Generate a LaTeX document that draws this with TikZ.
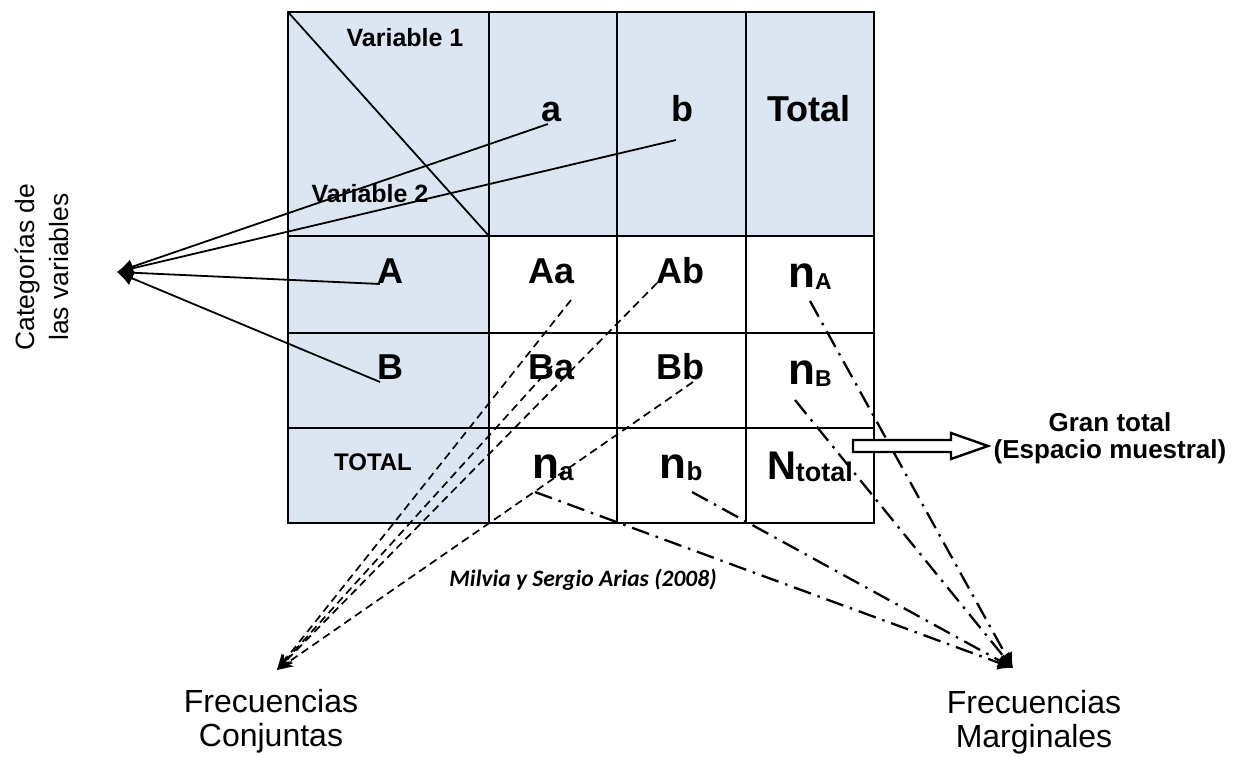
\documentclass[tikz,border=0pt]{standalone}
\usepackage{fontspec}
\setmainfont{Liberation Sans}
\newfontfamily\calfont{Carlito}
\usetikzlibrary{arrows.meta,calc}
\definecolor{hdrblue}{HTML}{DCE6F2}
\begin{document}
\begin{tikzpicture}[x=1pt,y=-1pt,
  grid/.style={line width=2.6pt,line cap=rect},
  big/.style={font=\fontsize{36}{36}\selectfont\bfseries,anchor=base,inner sep=0pt},
  mid/.style={font=\fontsize{25}{25}\selectfont\bfseries,anchor=base,inner sep=0pt},
  nlab/.style={font=\bfseries,anchor=base,inner sep=0pt},
  solidc/.style={line width=1.8pt,-{Latex[length=16pt,width=15pt]}},
  dashc/.style={line width=1.7pt,dash pattern=on 8pt off 5pt,-{Stealth[length=16pt,width=13pt]}},
  dotc/.style={line width=2.3pt,dash pattern=on 18pt off 7pt on 2.5pt off 7pt,-{Latex[length=15pt,width=15pt]}},
  note/.style={font=\fontsize{32}{34}\selectfont,align=center,anchor=north,inner sep=0pt}]
\useasboundingbox (0,0) rectangle (1248,757);
% table fills
\fill[hdrblue] (288,12) rectangle (874,236);
\fill[hdrblue] (288,236) rectangle (489,523);
% grid
\draw[grid] (288,12) rectangle (874,523);
\foreach \x in {489,617,746} \draw[grid] (\x,12) -- (\x,523);
\foreach \y in {236,333,428} \draw[grid] (288,\y) -- (874,\y);
\draw[line width=1.8pt] (288,12) -- (489,236);
% header labels
\node[mid] (v1) at (405,47) {Variable 1};
\node[mid] (v2) at (370,203) {Variable 2};
\node[big] (ha) at (552,122) {a};
\node[big] (hb) at (682,122) {b};
\node[big] (ht) at (809,122) {Total};
\node[big] (rA) at (390,283) {A};
\node[big] (rB) at (390,379) {B};
\node[font=\fontsize{24}{24}\selectfont\bfseries,anchor=base,inner sep=0pt] (rT) at (373,470) {TOTAL};
\node[big] (Aa) at (552,283) {Aa};
\node[big] (Ab) at (680,283) {Ab};
\node[big] (Ba) at (552,379) {Ba};
\node[big] (Bb) at (680,379) {Bb};
\node[nlab] (nA) at (810,287) {\fontsize{44}{44}\selectfont n\raisebox{-2pt}{\fontsize{23}{23}\selectfont A}};
\node[nlab] (nB) at (810,384) {\fontsize{44}{44}\selectfont n\raisebox{-2pt}{\fontsize{23}{23}\selectfont B}};
\node[nlab] (na) at (553,478) {\fontsize{44}{44}\selectfont n\raisebox{-2pt}{\fontsize{26}{26}\selectfont a}};
\node[nlab] (nb) at (681,478) {\fontsize{44}{44}\selectfont n\raisebox{-2pt}{\fontsize{26}{26}\selectfont b}};
\node[nlab] (Nt) at (810,479) {\fontsize{40}{40}\selectfont N\raisebox{-2pt}{\fontsize{27}{27}\selectfont total}};
% side texts
\node[font=\fontsize{26.5}{34}\selectfont,align=center,rotate=90,inner sep=0pt] (cat) at (42,267) {Categorías de\\las variables};
\node[note] (fc) at (271,689) {Frecuencias\\Conjuntas};
\node[note] (fm) at (1034,690) {Frecuencias\\Marginales};
\node[font=\fontsize{26}{27}\selectfont\bfseries,align=center,inner sep=0pt] (gt) at (1110,438) {Gran total\\(Espacio muestral)};
\node[font=\calfont\fontsize{23.5}{24}\selectfont\bfseries\itshape,inner sep=0pt] (src) at (583,580) {Milvia y Sergio Arias (2008)};
% connector endpoints
\coordinate (tipL) at (117,272);
\coordinate (tipC) at (277,670);
\coordinate (tipM) at (1013,668);
\coordinate (sa) at (548,124);
\coordinate (sb) at (676,140);
\coordinate (sA) at (380,284);
\coordinate (sB) at (380,382);
\coordinate (sAa) at (571,300);
\coordinate (sAb) at (657,283);
\coordinate (sBa) at (552,366);
\coordinate (sBb) at (693,382);
\coordinate (snA) at (810,301);
\coordinate (snB) at (795,400);
\coordinate (sna) at (535,492);
\coordinate (snb) at (692,492);
% solid connectors
\foreach \s in {sa,sb,sA,sB} \draw[solidc] (\s) -- (tipL);
% dashed connectors
\foreach \s in {sAa,sAb,sBa,sBb} \draw[dashc] (\s) -- (tipC);
% dash-dot connectors
\foreach \s in {snA,snB,sna,snb} \draw[dotc] (\s) -- (tipM);
% gran total hollow arrow
\coordinate (g0) at (853,446);
\coordinate (g1) at (988,446);
\draw[line width=2.4pt,fill=white,line join=miter]
  ($(g0)+(0,-6)$) -- (951,440) -- (951,433) -- (g1) -- (951,459) -- (951,452) -- ($(g0)+(0,6)$) -- cycle;
\end{tikzpicture}
\end{document}
